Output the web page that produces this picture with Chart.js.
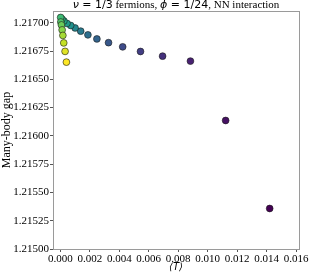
<!DOCTYPE html>
<html>
<head>
<meta charset="utf-8">
<script src="https://cdn.jsdelivr.net/npm/chart.js@4/dist/chart.umd.min.js"></script>
<style>
  html, body { margin: 0; padding: 0; background: #fff; }
  canvas { display: block; }
</style>
</head>
<body>
<canvas id="gapChart" width="312" height="277"></canvas>
<script>
// <T> and gap; ordered from the dark (purple) end to the yellow end
const meanT = [
  0.01421, 0.01122, 0.00883, 0.00694, 0.00544, 0.00423, 0.00327, 0.00248,
  0.00187, 0.00138, 0.00100, 0.00070, 0.00045, 0.00024, 0.00011, 0.00002,
  0.00003, 0.00007, 0.00012, 0.00017, 0.00023, 0.00032, 0.00041
];
const gap = [
  1.215358, 1.216136, 1.216661, 1.216705, 1.216746, 1.216787, 1.216824, 1.216857,
  1.216893, 1.216926, 1.216954, 1.216976, 1.216994, 1.217016, 1.217033, 1.217047,
  1.217007, 1.216981, 1.216937, 1.216888, 1.216822, 1.216747, 1.216652
];

const xTicks = [0, 0.002, 0.004, 0.006, 0.008, 0.010, 0.012, 0.014, 0.016];
const xTickLabels = ['0.000', '0.002', '0.004', '0.006', '0.008', '0.010', '0.012', '0.014', '0.016'];
const yTicks = [1.215, 1.21525, 1.2155, 1.21575, 1.216, 1.21625, 1.2165, 1.21675, 1.217];
const yTickLabels = ['1.21500', '1.21525', '1.21550', '1.21575', '1.21600', '1.21625', '1.21650', '1.21675', '1.21700'];

// title pieces: math bits in DejaVu Sans, the rest in serif (like matplotlib mathtext)
const titleParts = [
  { text: 'ν', font: 'italic 11px "DejaVu Sans"' },
  { text: ' = 1/3', font: '11px "DejaVu Sans"' },
  { text: ' fermions, ', font: '11px "Liberation Serif"' },
  { text: 'ϕ', font: 'italic 11px "DejaVu Sans"' },
  { text: ' = 1/24', font: '11px "DejaVu Sans"' },
  { text: ', NN interaction', font: '11px "Liberation Serif"' }
];

// viridis, sampled every 0.1
const viridis = ['#440154', '#482475', '#414487', '#355f8d', '#2a788e', '#21918c',
                 '#22a884', '#44bf70', '#7ad151', '#bddf26', '#fde725'];
function hex2rgb(h) {
  return [parseInt(h.slice(1, 3), 16), parseInt(h.slice(3, 5), 16), parseInt(h.slice(5, 7), 16)];
}
function viridisAt(t) {
  const p = t * 10;
  const i = Math.min(9, Math.floor(p));
  const f = p - i;
  const a = hex2rgb(viridis[i]), b = hex2rgb(viridis[i + 1]);
  const c = a.map((v, k) => Math.round(v + (b[k] - v) * f));
  return `rgb(${c[0]},${c[1]},${c[2]})`;
}
const pointColors = meanT.map((_, i) => viridisAt(i / (meanT.length - 1)));

const frame = {
  id: 'frame',
  afterDraw(chart) {
    const { ctx, chartArea: a } = chart;
    ctx.save();
    ctx.strokeStyle = '#9a9a9a';
    ctx.lineWidth = 1;
    ctx.strokeRect(Math.round(a.left) + 0.5, Math.round(a.top) + 0.5,
                   Math.round(a.right - a.left), Math.round(a.bottom - a.top));

    // title
    ctx.fillStyle = '#000';
    ctx.textBaseline = 'alphabetic';
    let total = 0;
    titleParts.forEach(p => { ctx.font = p.font; total += ctx.measureText(p.text).width; });
    let x = (a.left + a.right) / 2 - total / 2;
    titleParts.forEach(p => {
      ctx.font = p.font;
      ctx.fillText(p.text, x, 8);
      x += ctx.measureText(p.text).width;
    });
    ctx.restore();
  }
};

const serif = { family: 'Liberation Serif', size: 11 };

const ctx = document.getElementById('gapChart').getContext('2d');
const chart = new Chart(ctx, {
  type: 'scatter',
  data: {
    datasets: [{
      data: meanT.map((t, i) => ({ x: t, y: gap[i] })),
      backgroundColor: pointColors,
      borderColor: '#1a1a1a',
      borderWidth: 0.6,
      pointRadius: 3.4
    }]
  },
  options: {
    responsive: false,
    animation: false,
    layout: { padding: { top: 11, right: 13, left: 0, bottom: 0 } },
    plugins: { legend: { display: false }, tooltip: { enabled: false } },
    scales: {
      x: {
        type: 'linear',
        min: -0.0005,
        max: 0.0162,
        afterBuildTicks: s => { s.ticks = xTicks.map(v => ({ value: v })); },
        afterFit: s => { s.height = 28; s.paddingLeft = 0; s.paddingRight = 0; },
        ticks: {
          callback: (v, i) => xTickLabels[i],
          font: serif, color: '#000', maxRotation: 0, autoSkip: false, padding: 1
        },
        grid: { drawOnChartArea: false, tickLength: 3, tickColor: '#555' },
        border: { color: '#9a9a9a' },
        title: {
          display: true, text: '⟨T⟩', color: '#000', padding: { top: 0, bottom: 4 },
          font: { family: 'DejaVu Sans', size: 10, style: 'italic' }
        }
      },
      y: {
        min: 1.215,
        max: 1.217104,
        afterBuildTicks: s => { s.ticks = yTicks.map(v => ({ value: v })); },
        afterFit: s => { s.width = 53; s.paddingTop = 0; s.paddingBottom = 0; },
        ticks: { callback: (v, i) => yTickLabels[i], font: serif, color: '#000', padding: 1 },
        grid: { drawOnChartArea: false, tickLength: 3, tickColor: '#555' },
        border: { color: '#9a9a9a' },
        title: {
          display: true, text: 'Many-body gap', color: '#000', padding: 0,
          font: { family: 'Liberation Serif', size: 12 }
        }
      }
    }
  },
  plugins: [frame]
});
</script>
</body>
</html>
